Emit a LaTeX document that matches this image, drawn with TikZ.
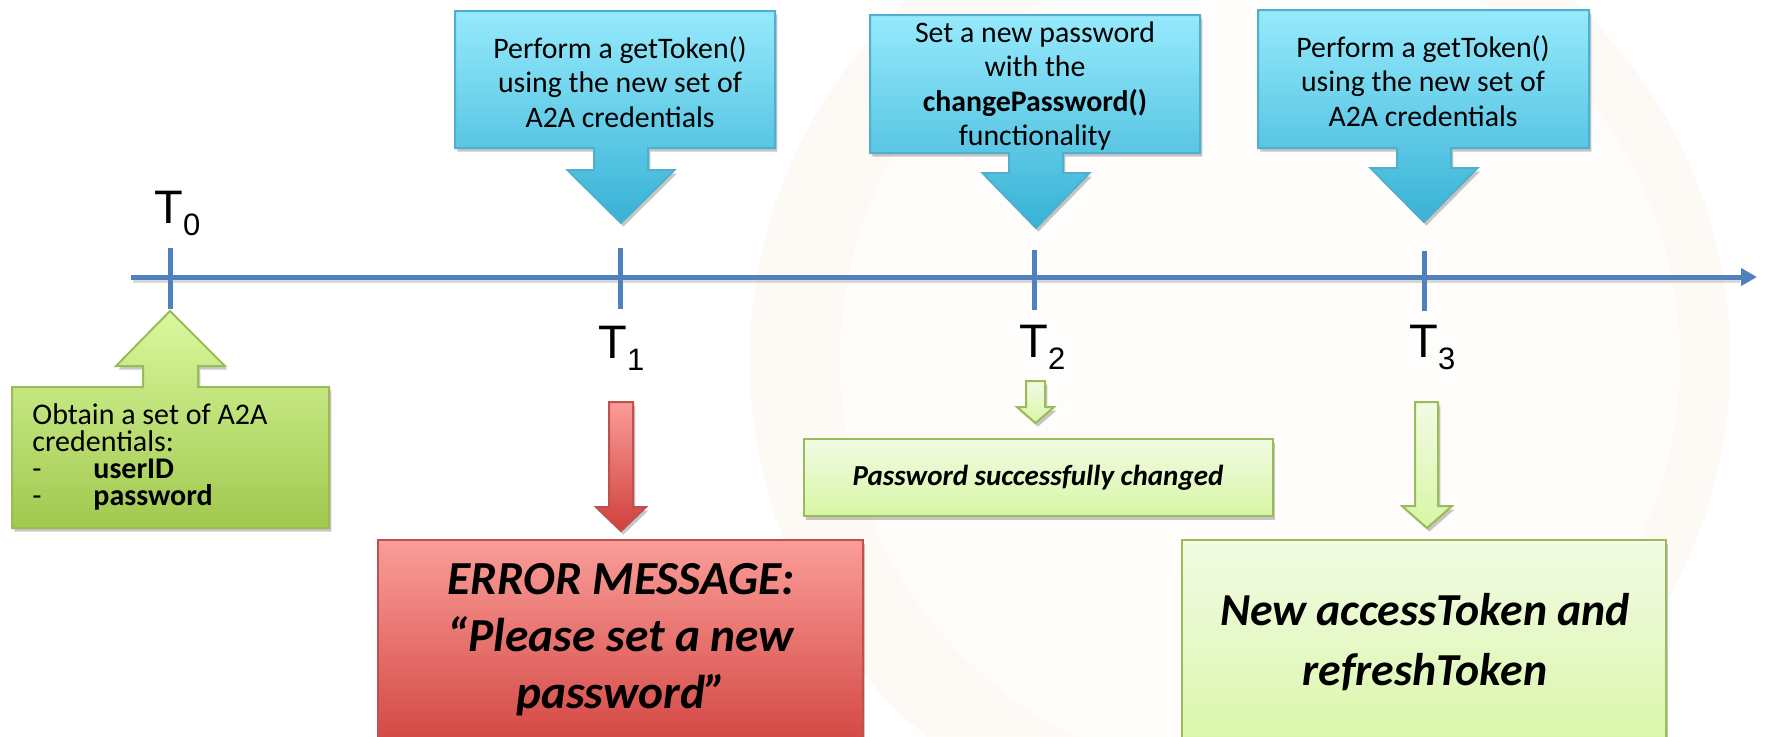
\documentclass[tikz,border=0pt]{standalone}
\usepackage{fontspec}
\setmainfont{Carlito}
\newfontfamily\arialf{Liberation Sans}
\usetikzlibrary{arrows.meta,shadows}
\definecolor{axisblue}{RGB}{79,129,189}
\definecolor{bluetop}{RGB}{150,234,252}
\definecolor{bluebot}{RGB}{55,178,214}
\definecolor{blueline}{RGB}{80,175,205}
\definecolor{greenline}{RGB}{155,187,89}
\definecolor{g0top}{RGB}{218,248,158}
\definecolor{g0bot}{RGB}{160,200,78}
\definecolor{lgtop}{RGB}{242,251,228}
\definecolor{lgbot}{RGB}{216,246,165}
\definecolor{redtop}{RGB}{250,157,152}
\definecolor{redbot}{RGB}{208,64,60}
\definecolor{redline}{RGB}{192,80,77}
\definecolor{peach}{RGB}{250,170,110}
\tikzset{
  shad/.style={drop shadow={shadow xshift=1.2pt,shadow yshift=-1.8pt,opacity=0.22,fill=black}},
  bluecall/.style={shad,draw=blueline,line width=1pt,top color=bluetop,bottom color=bluebot},
  greencall/.style={shad,draw=greenline,line width=1pt,top color=g0top,bottom color=g0bot},
  lightgreen/.style={shad,draw=greenline,line width=1pt,top color=lgtop,bottom color=lgbot},
  redshape/.style={shad,draw=redline,line width=1pt,top color=redtop,bottom color=redbot},
  tick/.style={axisblue,line width=2.5pt},
  txt/.style={inner sep=0pt,align=center,font=\fontsize{14.9pt}{17.2pt}\selectfont},
  tlabel/.style={inner sep=0pt,anchor=base west,font=\arialf\fontsize{23.5pt}{28pt}\selectfont},
}
\newcommand\sub[1]{\raisebox{-6pt}{\fontsize{15.5pt}{18pt}\selectfont #1}}
\begin{document}
\begin{tikzpicture}[x=0.5pt,y=-0.5pt]
\clip (0,0) rectangle (1766,736);
\fill[white] (0,0) rectangle (1766,736);
% faint background watermark
\fill[peach,opacity=0.025] (1240,360) circle (490);
\fill[peach,opacity=0.035,even odd rule] (1240,360) circle (490) (1260,360) circle (420);

% time axis
\coordinate (axs) at (131,277);
\coordinate (axe) at (1757,277);
\draw[black,opacity=0.15,line width=2.5pt] (133,280) -- (1740,280);
\draw[axisblue,line width=2.5pt,-{Triangle[length=8pt,width=8.5pt]}] (axs) -- (axe);
\draw[tick] (170,248) -- (170,309);
\draw[tick] (620,248) -- (620,309);
\draw[tick] (1034,250) -- (1034,310);
\draw[tick] (1424,251) -- (1424,311);

\node[tlabel] (t0) at (154,223) {T\sub{0}};
\node[tlabel] (t1) at (598,358) {T\sub{1}};
\node[tlabel] (t2) at (1019,357) {T\sub{2}};
\node[tlabel] (t3) at (1409,357) {T\sub{3}};

% blue callouts
\path[bluecall] (455,11) -- (775,11) -- (775,148) -- (648,148) -- (648,170) -- (674.5,170) -- (621,223) -- (567.5,170) -- (594,170) -- (594,148) -- (455,148) -- cycle;
\path[bluecall] (870,15) -- (1200,15) -- (1200,153) -- (1063,153) -- (1063,173) -- (1089.5,173) -- (1036,228) -- (982.5,173) -- (1009,173) -- (1009,153) -- (870,153) -- cycle;
\path[bluecall] (1258,10) -- (1589,10) -- (1589,148) -- (1451,148) -- (1451,168) -- (1477.5,168) -- (1424,222) -- (1370.5,168) -- (1397,168) -- (1397,148) -- (1258,148) -- cycle;
\node[txt] (b1) at (620,82) {Perform a getToken()\\using the new set of\\A2A credentials};
\node[txt] (b2) at (1035,86) {Set a new password\\with the\\\textbf{changePassword()}\\functionality};
\node[txt] (b3) at (1423,81) {Perform a getToken()\\using the new set of\\A2A credentials};

% green up callout
\path[greencall] (12,528) -- (329,528) -- (329,387) -- (198,387) -- (198,366) -- (225,366) -- (170,311) -- (116,366) -- (143,366) -- (143,387) -- (12,387) -- cycle;
\node[inner sep=0pt,anchor=west,align=left,font=\fontsize{15pt}{13.5pt}\selectfont] (g0) at (32,457)
 {Obtain a set of A2A\\credentials:\\\makebox[30.5pt][l]{-}\textbf{userID}\\\makebox[30.5pt][l]{-}\textbf{password}};

% red arrow and box
\path[redshape] (609,402) -- (633,402) -- (633,507) -- (646,507) -- (621,531) -- (596,507) -- (609,507) -- cycle;
\path[redshape] (378,540) rectangle (863,760);
\node[txt,font=\fontsize{23.7pt}{28.5pt}\selectfont\bfseries\itshape] (err) at (621,640) {ERROR MESSAGE:\\“Please set a new\\password”};

% password changed
\path[lightgreen] (1026,381) -- (1045,381) -- (1045,407) -- (1054,407) -- (1035.5,423) -- (1017,407) -- (1026,407) -- cycle;
\path[lightgreen] (804,439) rectangle (1273,516);
\node[txt,font=\fontsize{14.5pt}{17pt}\selectfont\bfseries\itshape] (pwd) at (1038,478) {Password successfully changed};

% tokens
\path[lightgreen] (1415,402) -- (1438,402) -- (1438,506) -- (1452,506) -- (1427,528) -- (1402,506) -- (1415,506) -- cycle;
\path[lightgreen] (1182,540) rectangle (1666,760);
\node[txt,font=\fontsize{22.9pt}{30pt}\selectfont\bfseries\itshape] (tok) at (1425,642) {New accessToken and\\refreshToken};
\end{tikzpicture}
\end{document}
